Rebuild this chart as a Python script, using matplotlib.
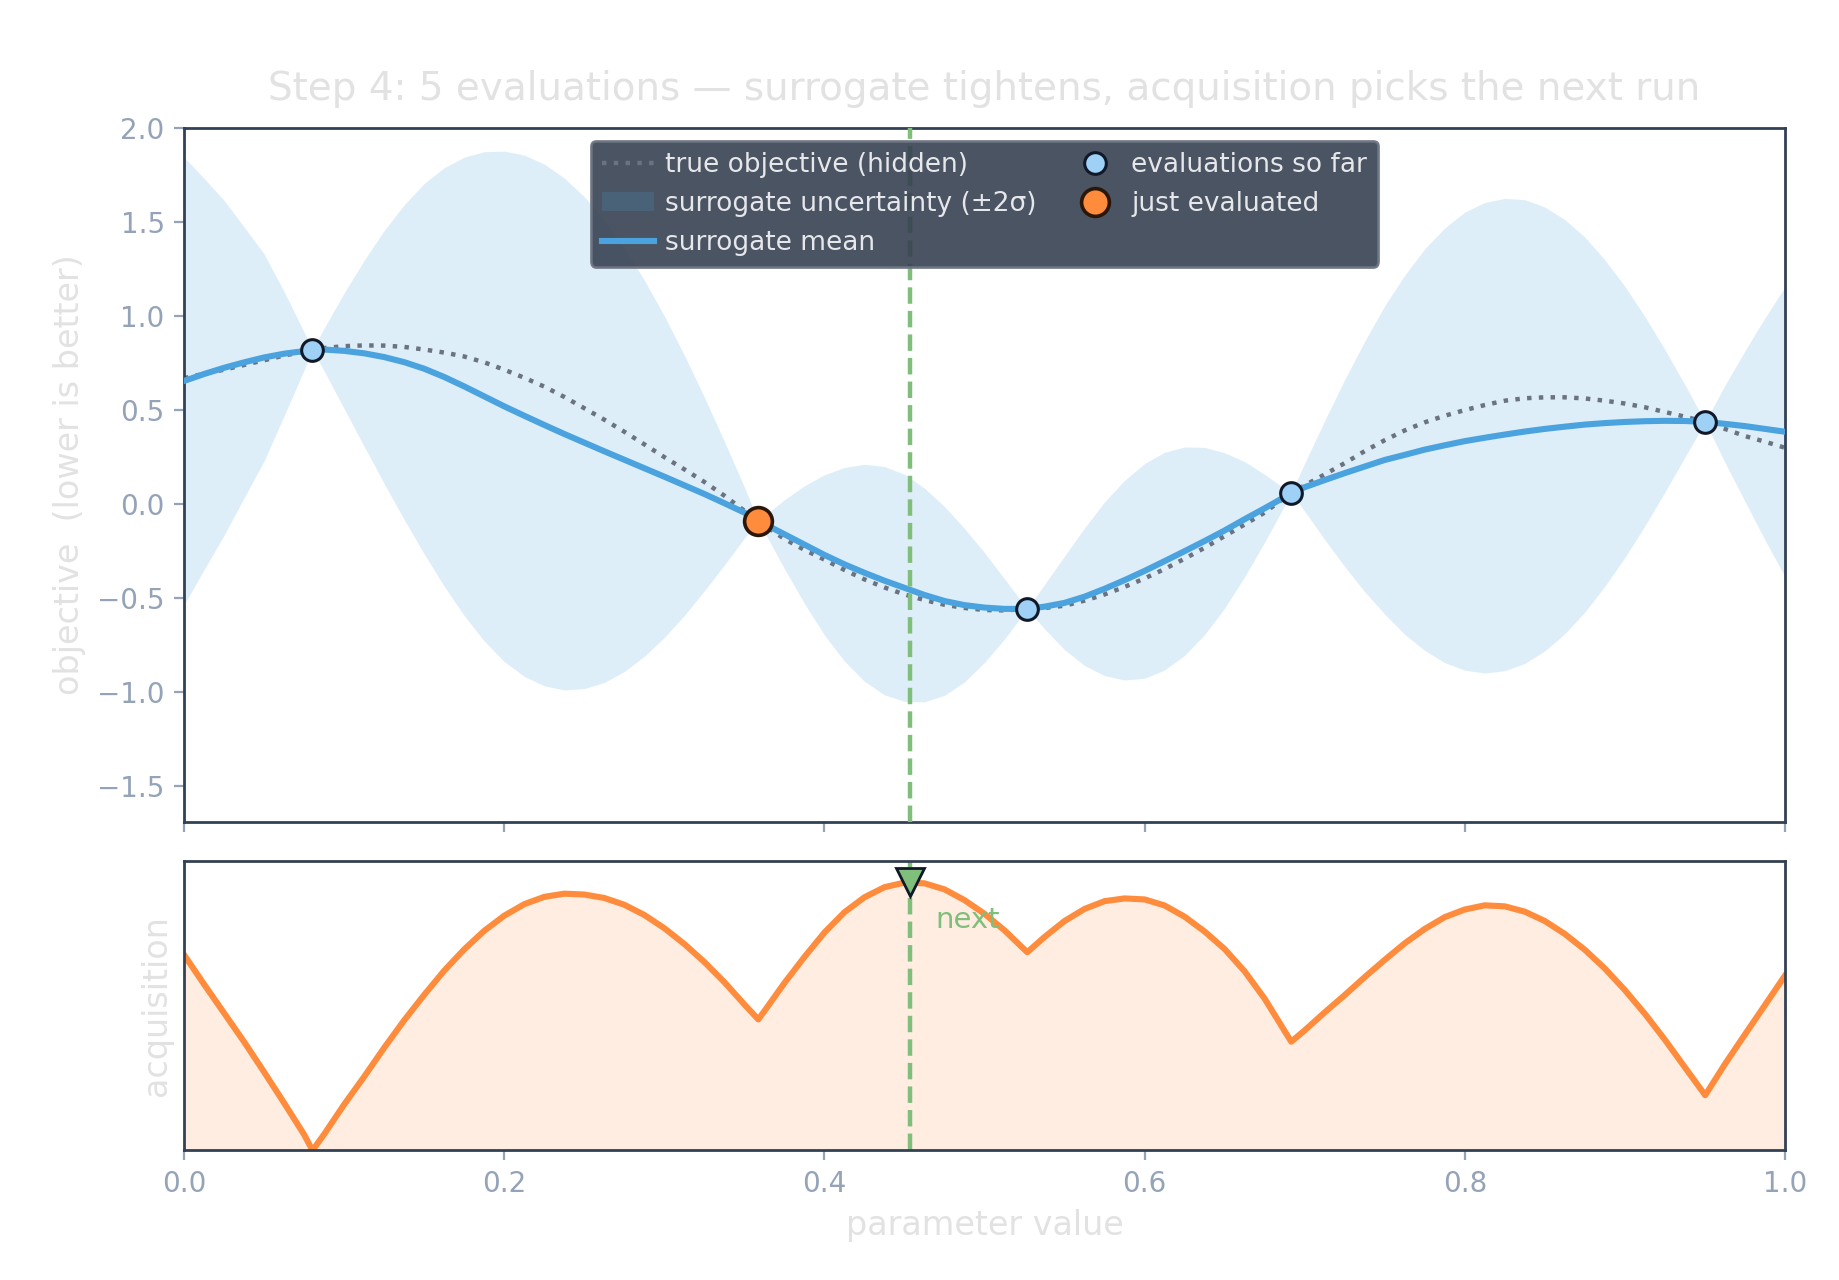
import matplotlib
matplotlib.use("Agg")
import matplotlib.pyplot as plt
from matplotlib.patches import Patch
from matplotlib.lines import Line2D
import numpy as np

x_grid = [0.0, 0.0125, 0.025, 0.0375, 0.05, 0.0625, 0.075, 0.0802,
          0.0875, 0.1, 0.1125, 0.125, 0.1375, 0.15, 0.1625, 0.175, 0.1875, 0.2,
          0.2125, 0.225, 0.2375, 0.25, 0.2625, 0.275, 0.2875, 0.3, 0.3125,
          0.325, 0.3375, 0.35, 0.3587,
          0.3625, 0.375, 0.3875, 0.4, 0.4125, 0.425, 0.4375, 0.45, 0.4625,
          0.475, 0.4875, 0.5, 0.5125, 0.5267,
          0.5375, 0.55, 0.5625, 0.575, 0.5875, 0.6, 0.6125, 0.625, 0.6375,
          0.65, 0.6625, 0.675, 0.6875, 0.6916,
          0.7, 0.7125, 0.725, 0.7375, 0.75, 0.7625, 0.775, 0.7875, 0.8, 0.8125,
          0.825, 0.8375, 0.85, 0.8625, 0.875, 0.8875, 0.9, 0.9125, 0.925,
          0.9375, 0.9502,
          0.9625, 0.975, 0.9875, 1.0]

# true objective (hidden)
true_obj = [0.67, 0.693, 0.715, 0.74, 0.765, 0.79, 0.811, 0.821,
            0.83, 0.84, 0.844, 0.843, 0.836, 0.822, 0.806, 0.785, 0.754, 0.715,
            0.672, 0.625, 0.57, 0.51, 0.449, 0.385, 0.318, 0.25, 0.185, 0.118,
            0.045, -0.035, -0.09,
            -0.112, -0.185, -0.243, -0.295, -0.35, -0.40, -0.443, -0.48, -0.51,
            -0.535, -0.552, -0.563, -0.565, -0.557,
            -0.552, -0.54, -0.513, -0.48, -0.44, -0.395, -0.345, -0.29, -0.232,
            -0.17, -0.108, -0.045, 0.035, 0.06,
            0.10, 0.158, 0.218, 0.282, 0.34, 0.392, 0.435, 0.47, 0.50, 0.527,
            0.55, 0.563, 0.568, 0.568, 0.562, 0.55, 0.535, 0.515, 0.49, 0.465,
            0.4375,
            0.40, 0.362, 0.332, 0.30]

# surrogate mean
surr_mean = [0.655, 0.692, 0.725, 0.754, 0.78, 0.80, 0.814, 0.821,
             0.822, 0.815, 0.802, 0.782, 0.755, 0.72, 0.676, 0.626, 0.573, 0.52,
             0.47, 0.421, 0.373, 0.327, 0.281, 0.236, 0.191, 0.146, 0.10, 0.054,
             0.005, -0.045, -0.09,
             -0.105, -0.16, -0.215, -0.27, -0.32, -0.365, -0.407, -0.445, -0.483,
             -0.515, -0.537, -0.55, -0.557, -0.557,
             -0.545, -0.525, -0.492, -0.45, -0.404, -0.355, -0.303, -0.25, -0.196,
             -0.14, -0.08, -0.022, 0.038, 0.06,
             0.09, 0.128, 0.165, 0.20, 0.235, 0.262, 0.29, 0.313, 0.335, 0.353,
             0.37, 0.386, 0.40, 0.412, 0.423, 0.431, 0.437, 0.441, 0.443, 0.442,
             0.4375,
             0.427, 0.415, 0.40, 0.385]

# half width of the uncertainty band (2 sigma)
two_sigma = [1.19, 1.04, 0.89, 0.72, 0.55, 0.33, 0.10, 0.0,
             0.114, 0.308, 0.495, 0.673, 0.837, 0.985, 1.113, 1.219, 1.301, 1.357,
             1.386, 1.387, 1.361, 1.308, 1.229, 1.126, 1.0, 0.855, 0.692, 0.515,
             0.329, 0.136, 0.0,
             0.043, 0.183, 0.313, 0.426, 0.515, 0.577, 0.607, 0.604, 0.568,
             0.502, 0.408, 0.292, 0.16, 0.0,
             0.118, 0.249, 0.366, 0.462, 0.531, 0.571, 0.579, 0.554, 0.498,
             0.413, 0.306, 0.18, 0.045, 0.0,
             0.128, 0.316, 0.497, 0.666, 0.82, 0.955, 1.068, 1.156, 1.218, 1.251,
             1.256, 1.233, 1.18, 1.101, 0.997, 0.868, 0.721, 0.557, 0.379, 0.193,
             0.0,
             0.205, 0.40, 0.59, 0.77]

# acquisition value
acq = [1.36, 1.155, 0.955, 0.755, 0.545, 0.33, 0.11, 0.0,
       0.113, 0.32, 0.513, 0.714, 0.905, 1.082, 1.25, 1.398, 1.527, 1.632,
       1.712, 1.763, 1.785, 1.779, 1.755, 1.708, 1.637, 1.545, 1.435, 1.31,
       1.17, 1.015, 0.911,
       0.969, 1.164, 1.345, 1.515, 1.656, 1.76, 1.83, 1.862, 1.857,
       1.815, 1.74, 1.645, 1.53, 1.378,
       1.484, 1.595, 1.679, 1.733, 1.752, 1.745, 1.703, 1.625, 1.522,
       1.40, 1.245, 1.055, 0.83, 0.756,
       0.835, 0.96, 1.08, 1.205, 1.325, 1.44, 1.54, 1.622, 1.675, 1.704,
       1.697, 1.66, 1.595, 1.505, 1.395, 1.265, 1.115, 0.95, 0.77, 0.578,
       0.384,
       0.60, 0.806, 1.01, 1.215]

# evaluations
eval_x = [0.0802, 0.5267, 0.6916, 0.9502]
eval_y = [0.821, -0.557, 0.06, 0.4375]
last_x = [0.3587]
last_y = [-0.09]

# proposed next point
next_x = 0.4535
next_acq = 1.865

TEXT_FAINT = "#e2e2e2"
TICK_COL = "#94a3b8"
SPINE_COL = "#334155"
BLUE = "#4aa3df"
ORANGE = "#ff8c3c"
GREEN = "#7fbf7b"

fig = plt.figure(figsize=(9.195, 6.4), dpi=200)
gs = fig.add_gridspec(2, 1, height_ratios=[2.4, 1], hspace=0.08,
                      left=0.1001, right=0.9706, top=0.90, bottom=0.1012)
ax = fig.add_subplot(gs[0])
ax2 = fig.add_subplot(gs[1], sharex=ax)

upper = np.array(surr_mean) + np.array(two_sigma)
lower = np.array(surr_mean) - np.array(two_sigma)

ax.fill_between(x_grid, lower, upper, color=BLUE, alpha=0.18, lw=0, zorder=1)
ax.plot(x_grid, true_obj, ls=":", color="#6b7280", lw=1.6, zorder=2)
ax.plot(x_grid, surr_mean, color=BLUE, lw=2.2, zorder=3)
ax.axvline(next_x, color=GREEN, ls="--", lw=1.6, zorder=4)
ax.plot(eval_x, eval_y, "o", ms=7.8, mfc="#9fd1f7", mec="#111827", mew=1.1, zorder=5)
ax.plot(last_x, last_y, "o", ms=10, mfc=ORANGE, mec="#2a1708", mew=1.3, zorder=6)

ax.set_xlim(0, 1)
ax.set_ylim(-1.69, 2.0)
ax.set_yticks([-1.5, -1.0, -0.5, 0.0, 0.5, 1.0, 1.5, 2.0])
ax.set_ylabel("objective  (lower is better)", color=TEXT_FAINT, fontsize=12)
ax.set_title("Step 4: 5 evaluations \u2014 surrogate tightens, acquisition picks the next run",
             color=TEXT_FAINT, fontsize=14, pad=10)
ax.tick_params(axis="x", labelbottom=False)

handles = [
    Line2D([], [], ls=":", color="#6b7280", lw=1.6),
    Patch(facecolor=BLUE, alpha=0.18, lw=0),
    Line2D([], [], color=BLUE, lw=2.2),
    Line2D([], [], ls="", marker="o", ms=7.8, mfc="#9fd1f7", mec="#111827", mew=1.1),
    Line2D([], [], ls="", marker="o", ms=10, mfc=ORANGE, mec="#2a1708", mew=1.3),
]
labels = ["true objective (hidden)", "surrogate uncertainty (\u00b12\u03c3)",
          "surrogate mean", "evaluations so far", "just evaluated"]
leg = ax.legend(handles, labels, loc="upper center", ncol=2, fontsize=9.5,
                facecolor="#374151", edgecolor="#6b7280", framealpha=0.9,
                labelcolor="#e5e7eb", columnspacing=1.2, handletextpad=0.4)
leg.set_zorder(10)

# acquisition panel
ax2.fill_between(x_grid, 0, acq, color=ORANGE, alpha=0.15, lw=0)
ax2.plot(x_grid, acq, color=ORANGE, lw=2.2)
ax2.axvline(next_x, color=GREEN, ls="--", lw=1.6)
ax2.plot([next_x], [next_acq], "v", ms=10, mfc=GREEN, mec="#111827", mew=1.0, zorder=5)
ax2.annotate("next", xy=(next_x, next_acq), xytext=(9, -13.6),
             textcoords="offset points", ha="left", va="center",
             color=GREEN, fontsize=10.5)
ax2.set_ylim(0, 2.01)
ax2.set_yticks([])
ax2.set_xticks([0.0, 0.2, 0.4, 0.6, 0.8, 1.0])
ax2.set_xlabel("parameter value", color=TEXT_FAINT, fontsize=12)
ax2.set_ylabel("acquisition", color=TEXT_FAINT, fontsize=12)

for a in (ax, ax2):
    for s in a.spines.values():
        s.set_color(SPINE_COL)
        s.set_linewidth(1.0)
    a.tick_params(colors=TICK_COL, labelsize=10)

fig.savefig("out.png", dpi=200)
